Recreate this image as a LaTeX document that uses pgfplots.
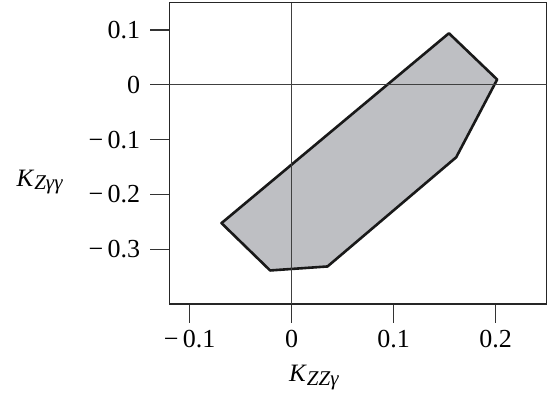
\documentclass[border=0pt]{standalone}
\usepackage{fontspec}
\setmainfont{Liberation Serif}
\usepackage{pgfplots}
\pgfplotsset{compat=1.18}
\definecolor{fillgray}{RGB}{190,191,195}
\newcommand{\lab}[2]{\textit{#1}\raisebox{-0.3ex}{\fontsize{10.5}{12}\selectfont\textit{#2}}}
\begin{document}
\begin{tikzpicture}
\begin{axis}[
  scale only axis, width=188.6pt, height=150.65pt,
  xmin=-0.12, xmax=0.25, ymin=-0.4, ymax=0.15,
  axis line style={line width=0.6pt, black!85},
  xtick={-0.1,0,0.1,0.2}, xticklabels={−\,0.1,0,0.1,0.2},
  ytick={-0.3,-0.2,-0.1,0,0.1}, yticklabels={−\,0.3,−\,0.2,−\,0.1,0,0.1},
  tick align=outside, xtick pos=bottom, ytick pos=left,
  major tick length=9.5pt,
  tick style={line width=0.6pt, black!80},
  ticklabel style={font=\fontsize{13}{15}\selectfont},
  yticklabel style={xshift=-1.5pt},
  label style={font=\fontsize{12.5}{15}\selectfont},
  xlabel={\lab{K}{ZZγ}},
  xlabel style={at={(xticklabel cs:0.384)}, anchor=north, yshift=-2pt},
  ylabel={\lab{K}{Zγγ}},
  ylabel style={rotate=-90, at={(yticklabel cs:0.405)}, anchor=east, xshift=-6pt},
]
\addplot[fill=fillgray, draw=black!90, line width=1.3pt, line join=round] coordinates {
  (-0.0688,-0.2524) (-0.0211,-0.3388) (0.0352,-0.3315) (0.1614,-0.1322)
  (0.2016,0.0098) (0.1543,0.0942)
} -- cycle;
\addplot[black!75, line width=0.5pt] coordinates {(-0.12,0) (0.25,0)};
\addplot[black!75, line width=0.5pt] coordinates {(0,-0.4) (0,0.15)};
\end{axis}
\path ([shift={(-84.65pt,-45.5pt)}]current axis.south west) rectangle ([shift={(3.75pt,1.35pt)}]current axis.north east);
\end{tikzpicture}
\end{document}
